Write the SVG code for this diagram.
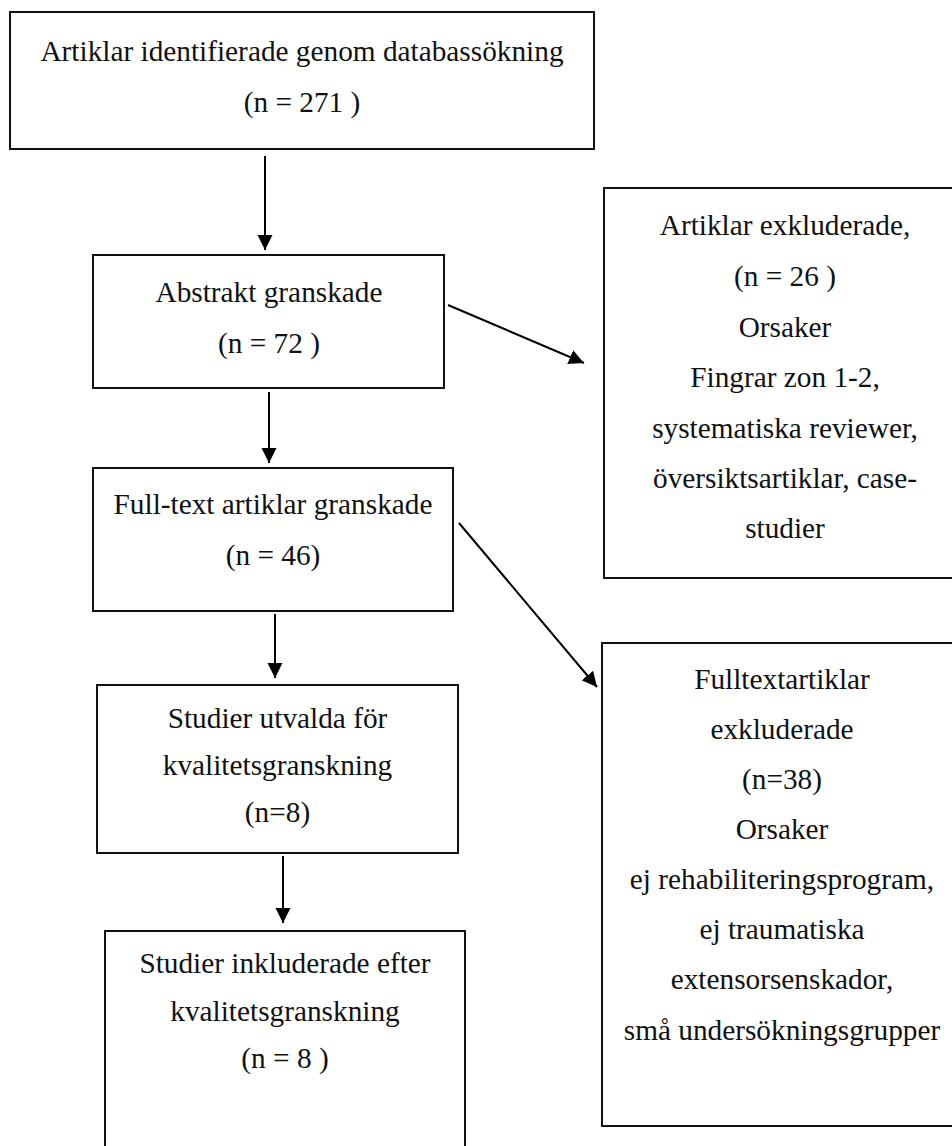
<svg xmlns="http://www.w3.org/2000/svg" width="952" height="1146" viewBox="0 0 952 1146">
  <defs>
    <style>
      .box { fill: #ffffff; stroke: #111111; stroke-width: 2; }
      .t { font-family: "Liberation Serif", "Times New Roman", serif; font-size: 29.3px; fill: #111111; text-anchor: middle; }
      .c { stroke: #000000; stroke-width: 2; fill: none; }
    </style>
    <marker id="ah" markerUnits="userSpaceOnUse" markerWidth="16" markerHeight="16" refX="15" refY="8" orient="auto">
      <path d="M0,0.5 L15,8 L0,15.5 z" fill="#000000"/>
    </marker>
  </defs>
  <rect width="952" height="1146" fill="#ffffff"/>

  <g id="n1">
    <rect class="box" x="10" y="12" width="584" height="137"/>
    <text class="t" x="302" y="61">Artiklar identifierade genom databassökning</text>
    <text class="t" x="302" y="112">(n = 271 )</text>
  </g>

  <g id="n2">
    <rect class="box" x="93" y="255" width="351" height="133"/>
    <text class="t" x="269" y="302">Abstrakt granskade</text>
    <text class="t" x="269" y="353">(n = 72 )</text>
  </g>

  <g id="n3">
    <rect class="box" x="93" y="468" width="360" height="143"/>
    <text class="t" x="273" y="514">Full-text artiklar granskade</text>
    <text class="t" x="273" y="565">(n = 46)</text>
  </g>

  <g id="n4">
    <rect class="box" x="97" y="685" width="361" height="168"/>
    <text class="t" x="277.5" y="728">Studier utvalda för</text>
    <text class="t" x="277.5" y="775">kvalitetsgranskning</text>
    <text class="t" x="277.5" y="822">(n=8)</text>
  </g>

  <g id="n5">
    <rect class="box" x="105" y="931" width="360" height="240"/>
    <text class="t" x="285" y="973">Studier inkluderade efter</text>
    <text class="t" x="285" y="1021">kvalitetsgranskning</text>
    <text class="t" x="285" y="1068">(n = 8 )</text>
  </g>

  <g id="n6">
    <rect class="box" x="604" y="188" width="362" height="390"/>
    <text class="t" x="785" y="235">Artiklar exkluderade,</text>
    <text class="t" x="785" y="286">(n = 26 )</text>
    <text class="t" x="785" y="337">Orsaker</text>
    <text class="t" x="785" y="387">Fingrar zon 1-2,</text>
    <text class="t" x="785" y="438">systematiska reviewer,</text>
    <text class="t" x="785" y="488">översiktsartiklar, case-</text>
    <text class="t" x="785" y="538">studier</text>
  </g>

  <g id="n7">
    <rect class="box" x="602" y="643" width="362" height="483"/>
    <text class="t" x="782" y="689">Fulltextartiklar</text>
    <text class="t" x="782" y="739">exkluderade</text>
    <text class="t" x="782" y="789">(n=38)</text>
    <text class="t" x="782" y="839">Orsaker</text>
    <text class="t" x="782" y="889">ej rehabiliteringsprogram,</text>
    <text class="t" x="782" y="939">ej traumatiska</text>
    <text class="t" x="782" y="989">extensorsenskador,</text>
    <text class="t" x="782" y="1040">små undersökningsgrupper</text>
  </g>

  <g id="connectors">
    <line class="c" x1="265" y1="156" x2="265" y2="250" marker-end="url(#ah)"/>
    <line class="c" x1="269" y1="392" x2="269" y2="463" marker-end="url(#ah)"/>
    <line class="c" x1="275" y1="614" x2="275" y2="678" marker-end="url(#ah)"/>
    <line class="c" x1="283" y1="856" x2="283" y2="923" marker-end="url(#ah)"/>
    <line class="c" x1="448" y1="305" x2="584" y2="363" marker-end="url(#ah)"/>
    <line class="c" x1="459" y1="523" x2="597" y2="687" marker-end="url(#ah)"/>
  </g>
</svg>
